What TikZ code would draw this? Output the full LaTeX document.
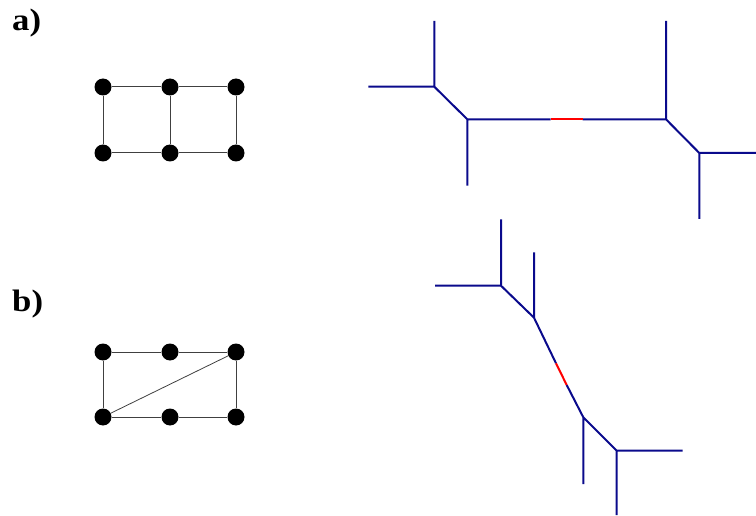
\documentclass[tikz,border=0pt]{standalone}
\usepackage{fontspec}
\setmainfont{Liberation Serif}
\definecolor{tree}{RGB}{10,10,140}
\definecolor{hot}{RGB}{255,0,0}
\tikzset{
  vert/.style={circle,fill=black,inner sep=0pt,minimum size=17pt},
  gedge/.style={draw=black!75,line width=1pt},
  tedge/.style={draw=tree,line width=2pt},
  redge/.style={draw=hot,line width=2pt},
  lab/.style={font=\bfseries\fontsize{31}{31}\selectfont,anchor=base west,inner sep=0pt,xscale=1.12}
}
\begin{document}
\begin{tikzpicture}[x=1pt,y=-1pt]
\useasboundingbox (0,0) rectangle (756,516);
% labels
\node[lab] (la) at (12,31) {a)};
\node[lab] (lb) at (12,311) {b)};
% graph a
\node[vert] (a1) at (103,87) {};
\node[vert] (a2) at (170,87) {};
\node[vert] (a3) at (236,87) {};
\node[vert] (a4) at (103,153) {};
\node[vert] (a5) at (170,153) {};
\node[vert] (a6) at (236,153) {};
\draw[gedge] (a1)--(a2) (a2)--(a3) (a4)--(a5) (a5)--(a6) (a1)--(a4) (a2)--(a5) (a3)--(a6);
% graph b
\node[vert] (b1) at (103,352) {};
\node[vert] (b2) at (170,352) {};
\node[vert] (b3) at (236,352) {};
\node[vert] (b4) at (103,417) {};
\node[vert] (b5) at (170,417) {};
\node[vert] (b6) at (236,417) {};
\draw[gedge] (b1)--(b2) (b2)--(b3) (b4)--(b5) (b5)--(b6) (b1)--(b4) (b3)--(b6);
\draw[gedge,line width=0.8pt] (b4)--(b3);
% tree a
\coordinate (A1) at (434.3,86.7);
\coordinate (A1u) at (434.3,21);
\coordinate (A1l) at (368.3,86.7);
\coordinate (A2) at (467.3,119.3);
\coordinate (A2d) at (467.3,185.7);
\coordinate (Ra) at (550.7,119.3);
\coordinate (Rb) at (582.7,119.3);
\coordinate (B1) at (666,119.3);
\coordinate (B1u) at (666,21);
\coordinate (B2) at (699.3,153);
\coordinate (B2r) at (756,153);
\coordinate (B2d) at (699.3,219);
\draw[tedge] (A1u)--(A1) (A1l)--(A1) (A1)--(A2) (A2)--(A2d) (A2)--(Ra) (Rb)--(B1) (B1)--(B1u) (B1)--(B2) (B2)--(B2r) (B2)--(B2d);
\draw[redge] (Ra)--(Rb);
% tree b
\coordinate (C1) at (501,285.7);
\coordinate (C1u) at (501,219.3);
\coordinate (C1l) at (435,285.7);
\coordinate (C2) at (534,317.7);
\coordinate (C2u) at (534,252.3);
\coordinate (Rc) at (556,363.3);
\coordinate (Rd) at (566.7,385);
\coordinate (D1) at (583.3,417.3);
\coordinate (D1d) at (583.3,484);
\coordinate (D2) at (616.7,450.7);
\coordinate (D2r) at (682.7,450.7);
\coordinate (D2d) at (616.7,515);
\draw[tedge] (C1u)--(C1) (C1l)--(C1) (C1)--(C2) (C2)--(C2u) (C2)--(Rc) (Rd)--(D1) (D1)--(D1d) (D1)--(D2) (D2)--(D2r) (D2)--(D2d);
\draw[redge] (Rc)--(Rd);
\end{tikzpicture}
\end{document}
